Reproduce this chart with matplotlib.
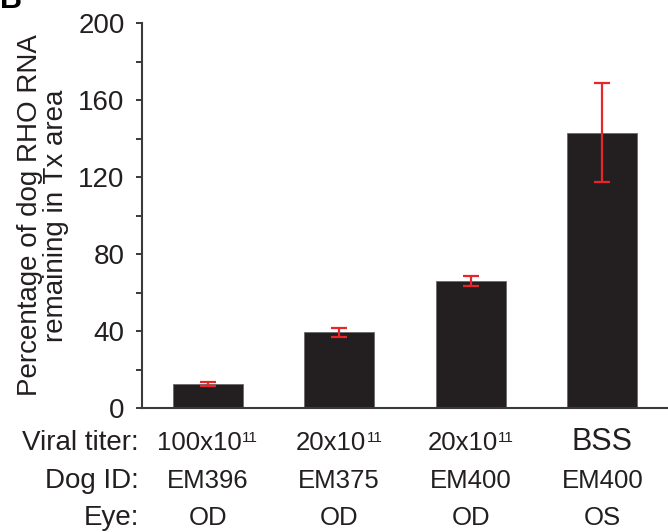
import numpy as np
import matplotlib.pyplot as plt
from matplotlib.ticker import MultipleLocator

plt.rcParams['font.family'] = ['Liberation Sans', 'DejaVu Sans']

# percent of RHO RNA left in the treated area, mean and error
pct = [12.5, 39.3, 66.0, 143.0]
err = [1.1, 2.5, 2.6, 25.8]
titer = [('100x10', '11'), ('20x10', '11'), ('20x10', '11'), ('BSS', '')]
dog_id = ['EM396', 'EM375', 'EM400', 'EM400']
eye = ['OD', 'OD', 'OD', 'OS']
row_names = ['Viral titer:', 'Dog ID:', 'Eye:']

W, H = 668, 532
ink = '#231f20'
fig = plt.figure(figsize=(W/100, H/100), dpi=100)
ax = fig.add_axes([142/W, 1-408/H, 526/W, 385/H])

x = np.arange(len(pct))
ax.bar(x, pct, width=0.53, color=ink, edgecolor='#6a6a6a', linewidth=0.6, zorder=2)
ax.errorbar(x, pct, yerr=err, fmt='none', ecolor='#e8262a', elinewidth=1.6,
            capsize=5.5, capthick=1.6, zorder=3)

ax.set_xlim(-0.5, 3.5)
ax.set_ylim(0, 200)
ax.yaxis.set_major_locator(MultipleLocator(40))
ax.yaxis.set_minor_locator(MultipleLocator(20))
ax.tick_params(axis='y', which='both', direction='out', length=4.5, width=1.4,
               color='#3a3a3a', labelsize=20, pad=8, labelcolor=ink)
ax.tick_params(axis='x', bottom=False, labelbottom=False)
for s in ['top', 'right']:
    ax.spines[s].set_visible(False)
for s in ['left', 'bottom']:
    ax.spines[s].set_color('#3a3a3a')
    ax.spines[s].set_linewidth(1.5)

ax.set_ylabel('Percentage of dog RHO RNA\nremaining in Tx area', fontsize=20,
              linespacing=1.0, labelpad=7, color=ink)

# table of sample info under the bars (baselines in pixels)
base_y = [450, 488, 525]
rd = fig.canvas.get_renderer()
centers = [ax.transData.transform((xi, 0))[0] for xi in x]

for name, yb in zip(row_names, base_y):
    fig.text(139/W, 1-yb/H, name, ha='right', va='baseline', fontsize=20, color=ink)

# viral titer row with small raised exponent
for xc, (main, sup) in zip(centers, titer):
    if not sup:
        fig.text(xc/W, 1-base_y[0]/H, main, ha='center', va='baseline', fontsize=22, color=ink)
        continue
    t1 = fig.text(0, 1-base_y[0]/H, main, ha='left', va='baseline', fontsize=18.5, color=ink)
    t2 = fig.text(0, 1-(base_y[0]-7.5)/H, sup, ha='left', va='baseline', fontsize=11, color=ink)
    w1 = t1.get_window_extent(rd).width
    w2 = t2.get_window_extent(rd).width
    left = xc - (w1 + w2) / 2
    t1.set_x(left/W)
    t2.set_x((left + w1)/W)

for yb, vals in zip(base_y[1:], [dog_id, eye]):
    for xc, v in zip(centers, vals):
        fig.text(xc/W, 1-yb/H, v, ha='center', va='baseline', fontsize=18.5, color=ink)

# panel letter, cut at the top edge
fig.text(0.0, 1.0, 'B', fontsize=22, fontweight='bold', ha='left', va='center')

fig.savefig('out.png', dpi=100)
